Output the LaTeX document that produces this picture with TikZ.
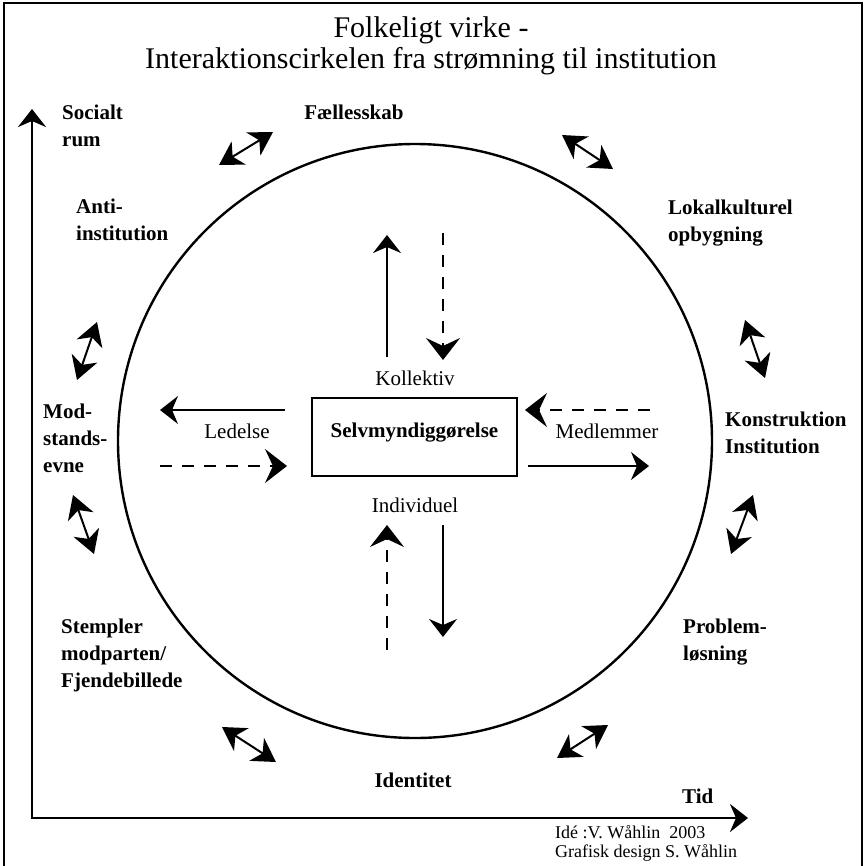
\documentclass[tikz,border=0pt]{standalone}
\usepackage{fontspec}
\setmainfont{Liberation Serif}
\usetikzlibrary{arrows.meta}

\begin{document}
\begin{tikzpicture}[x=1pt,y=-1pt,>=Stealth]
  \tikzstyle{every node}=[inner sep=0pt]
  \tikzstyle{big}=[font=\bfseries\fontsize{21}{27}\selectfont,align=left,anchor=north west]
  \tikzstyle{small}=[font=\fontsize{21}{24}\selectfont,anchor=base]
  \tikzstyle{credit}=[font=\fontsize{18}{20}\selectfont,anchor=base west]
  \tikzstyle{solid arrow}=[-{Stealth[length=18pt,width=28pt,inset=6pt]},line width=1.7pt]
  \tikzstyle{dashed arrow}=[-{Stealth[length=22pt,width=34pt,inset=8pt]},line width=1.7pt,dash pattern=on 12pt off 10pt]
  \tikzstyle{dbl}=[{Stealth[length=23pt,width=27pt,inset=7pt]}-{Stealth[length=23pt,width=27pt,inset=7pt]},line width=2pt]
  \tikzstyle{axis}=[{Stealth[length=18pt,width=28pt,inset=6pt]}-{Stealth[length=18pt,width=28pt,inset=6pt]},line width=2.8pt]

  \useasboundingbox (0,0) rectangle (867,865);
  \draw[line width=1.2pt] (4,870) |- (862,3) -- (862,870);

  % title
  \node[font=\fontsize{30}{32}\selectfont,anchor=base] (title1) at (431,37) {Folkeligt virke -};
  \node[font=\fontsize{30}{32}\selectfont,anchor=base] (title2) at (431,68) {Interaktionscirkelen fra strømning til institution};

  % circle and centre box
  \node[draw,circle,line width=2.4pt,minimum size=594pt] (ring) at (415,441) {};
  \node[draw,line width=1.8pt,minimum width=205pt,minimum height=78pt,
        font=\bfseries\fontsize{21}{24}\selectfont,text height=14pt,text depth=14pt] (selv) at (414.5,437) {Selvmyndiggørelse};
  \node[small] (koll)  at (415,385) {Kollektiv};
  \node[small] (indiv) at (415,512) {Individuel};
  \node[small] (led)   at (237,438) {Ledelse};
  \node[small] (medl)  at (607,438) {Medlemmer};

  % labels round the circle
  \node[big] (social) at (62,105) {Socialt\\rum};
  \node[big,anchor=base] (faelles) at (354,119) {Fællesskab};
  \node[big] (anti)   at (76,199)  {Anti-\\institution};
  \node[big] (lokal)  at (668,200) {Lokalkulturel\\opbygning};
  \node[big] (modst)  at (43,404)  {Mod-\\stands-\\evne};
  \node[big] (konstr) at (725,412) {Konstruktion\\Institution};
  \node[big] (stempl) at (61,619)  {Stempler\\modparten/\\Fjendebillede};
  \node[big] (probl)  at (683,619) {Problem-\\løsning};
  \node[big,anchor=base] (ident) at (413,787) {Identitet};
  \node[big,anchor=base west] (tid) at (682,803) {Tid};
  \node[credit] (ide)     at (555,838) {Idé :V. Wåhlin\ \ 2003};
  \node[credit] (grafisk) at (555,857) {Grafisk design S. Wåhlin};

  % axes
  \coordinate (orig) at (32,818);
  \coordinate (ytop) at (32,109);
  \coordinate (xend) at (748,818);
  \draw[axis] (ytop) -- (orig) -- (xend);

  % arrows in the circle
  \coordinate (u1) at (387,357); \coordinate (u2) at (387,235);
  \coordinate (v1) at (443,233); \coordinate (v2) at (443,360);
  \coordinate (w1) at (387,650); \coordinate (w2) at (387,525);
  \coordinate (z1) at (443,525); \coordinate (z2) at (443,637);
  \coordinate (l1) at (285,410); \coordinate (l2) at (160,410);
  \coordinate (l3) at (160,466); \coordinate (l4) at (287,466);
  \coordinate (m1) at (650,410); \coordinate (m2) at (525,410);
  \coordinate (m3) at (528,466); \coordinate (m4) at (649,466);
  \path (u1) edge[solid arrow] (u2)
        (v1) edge[dashed arrow] (v2)
        (w1) edge[dashed arrow] (w2)
        (z1) edge[solid arrow] (z2)
        (l1) edge[solid arrow] (l2)
        (l3) edge[dashed arrow] (l4)
        (m1) edge[dashed arrow] (m2)
        (m3) edge[solid arrow] (m4);

  % double arrows on the ring
  \coordinate (d1a) at (219,165); \coordinate (d1b) at (273,132);
  \coordinate (d2a) at (562,135); \coordinate (d2b) at (613,169);
  \coordinate (d3a) at (97,322);  \coordinate (d3b) at (77,380);
  \coordinate (d4a) at (73,495);  \coordinate (d4b) at (94,554);
  \coordinate (d5a) at (745,320); \coordinate (d5b) at (765,378);
  \coordinate (d6a) at (753,495); \coordinate (d6b) at (731,554);
  \coordinate (d7a) at (222,727); \coordinate (d7b) at (276,762);
  \coordinate (d8a) at (557,758); \coordinate (d8b) at (608,725);
  \path (d1a) edge[dbl] (d1b)
        (d2a) edge[dbl] (d2b)
        (d3a) edge[dbl] (d3b)
        (d4a) edge[dbl] (d4b)
        (d5a) edge[dbl] (d5b)
        (d6a) edge[dbl] (d6b)
        (d7a) edge[dbl] (d7b)
        (d8a) edge[dbl] (d8b);
\end{tikzpicture}
\end{document}
